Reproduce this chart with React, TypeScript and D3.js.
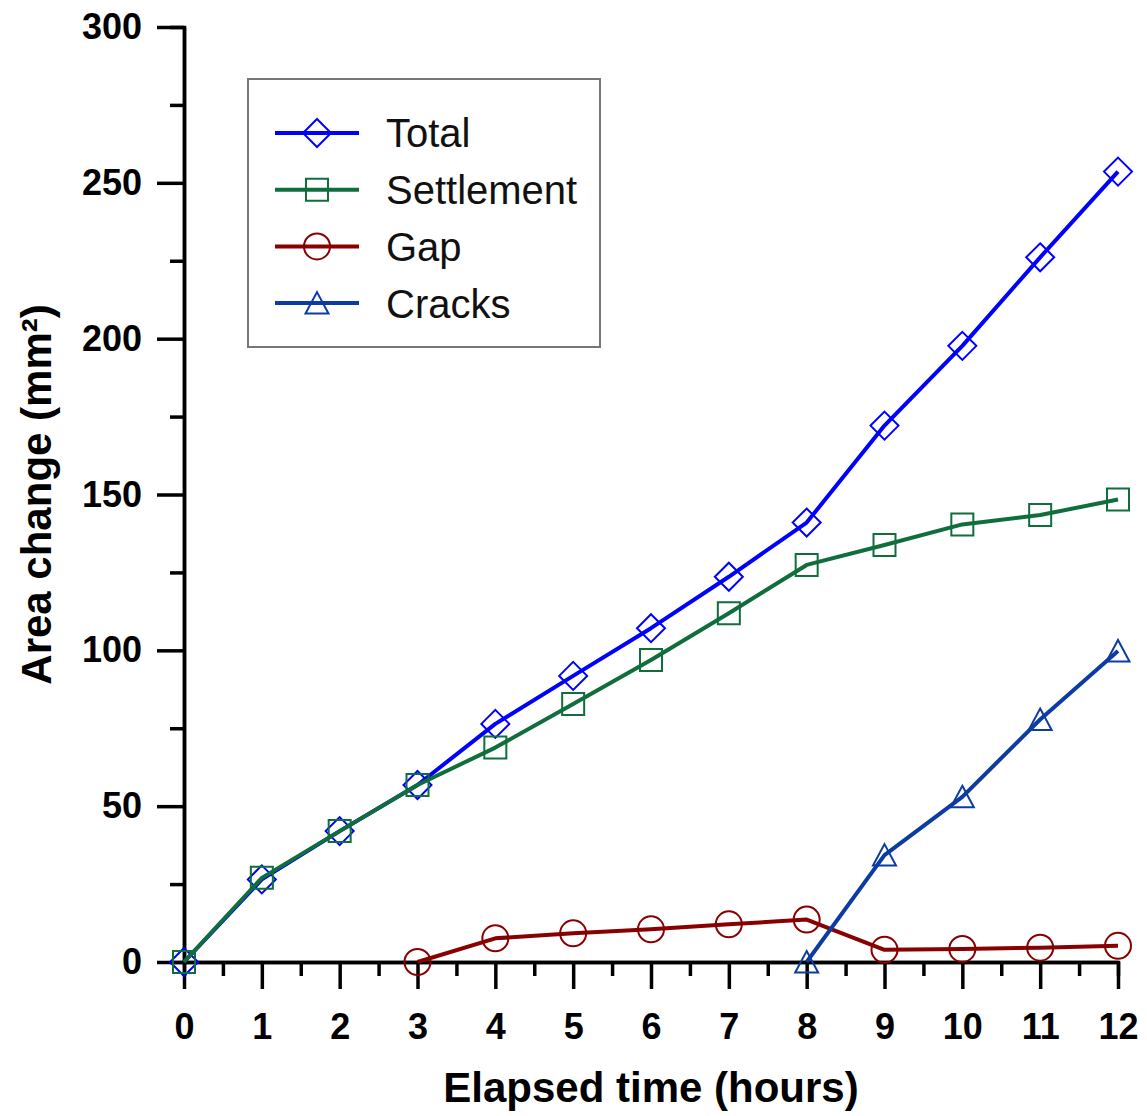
import { useEffect, useRef } from "react"
import * as d3 from "d3"

// hours on the x axis
const hours = [0, 1, 2, 3, 4, 5, 6, 7, 8, 9, 10, 11, 12]

// area change (mm²) per series, null where the series has no point
const total = [0, 26.5, 42, 56.8, 76.4, 91.8, 107.1, 123.6, 141, 172.1, 197.7, 226.1, 253.6]
const settlement = [0, 27, 42, 56.8, 68.8, 82.8, 96.9, 111.9, 127.4, 133.8, 140.4, 143.4, 148.4]
const gap = [null, null, null, 0, 7.6, 9.2, 10.5, 12.1, 13.6, 3.9, 4.2, 4.6, 5.2]
const cracks = [null, null, null, null, null, null, null, null, 0, 34.3, 53, 77.8, 99.8]

const seriesNames = ["Total", "Settlement", "Gap", "Cracks"]
const seriesColors = ["#0000ff", "#0f6e3c", "#880000", "#0c3ca2"]
const seriesMarkers = ["diamond", "square", "circle", "triangle"]

const xTicks = [0, 1, 2, 3, 4, 5, 6, 7, 8, 9, 10, 11, 12]
const xMinorTicks = [0.5, 1.5, 2.5, 3.5, 4.5, 5.5, 6.5, 7.5, 8.5, 9.5, 10.5, 11.5]
const yTicks = [0, 50, 100, 150, 200, 250, 300]
const yMinorTicks = [25, 75, 125, 175, 225, 275]

const FONT = "'Liberation Sans', Arial, sans-serif"

function markerPath(kind: string): string {
  switch (kind) {
    case "diamond":
      return "M0,-14L14,0L0,14L-14,0Z"
    case "square":
      return "M-11,-11H11V11H-11Z"
    case "triangle":
      return "M0,-11L11.5,10.5L-11.5,10.5Z"
    default:
      return "M13,0A13,13 0 1,1 -13,0A13,13 0 1,1 13,0Z"
  }
}

export default function App() {
  const svgRef = useRef<SVGSVGElement>(null)

  useEffect(() => {
    if (!svgRef.current) return
    const svg = d3.select(svgRef.current)
    svg.selectAll("*").remove()

    const x = d3.scaleLinear().domain([0, 12]).range([184, 1118])
    const y = d3.scaleLinear().domain([0, 300]).range([962, 27])

    const styleAxis = (g: d3.Selection<SVGGElement, unknown, null, undefined>) => {
      g.select(".domain").attr("stroke", "#000").attr("stroke-width", 3.5)
      g.selectAll(".tick line").attr("stroke", "#000").attr("stroke-width", 3.5)
      g.selectAll(".tick text")
        .attr("fill", "#000")
        .style("font-family", FONT)
        .style("font-weight", "bold")
        .style("font-size", "36px")
    }

    // minor ticks
    svg.append("g")
      .attr("transform", `translate(0,${y(0)})`)
      .call(d3.axisBottom(x).tickValues(xMinorTicks).tickSize(14).tickFormat(() => ""))
      .call(styleAxis)
    svg.append("g")
      .attr("transform", `translate(${x(0)},0)`)
      .call(d3.axisLeft(y).tickValues(yMinorTicks).tickSize(14).tickFormat(() => ""))
      .call(styleAxis)

    // major ticks
    svg.append("g")
      .attr("transform", `translate(0,${y(0)})`)
      .call(d3.axisBottom(x).tickValues(xTicks).tickSize(27).tickSizeOuter(0).tickPadding(24).tickFormat(d3.format("d")))
      .call(styleAxis)
    svg.append("g")
      .attr("transform", `translate(${x(0)},0)`)
      .call(d3.axisLeft(y).tickValues(yTicks).tickSize(27).tickSizeOuter(0).tickPadding(15).tickFormat(d3.format("d")))
      .call(styleAxis)

    // axis titles
    svg.append("text")
      .attr("x", (x(0) + x(12)) / 2)
      .attr("y", 1102)
      .attr("text-anchor", "middle")
      .style("font-family", FONT)
      .style("font-weight", "bold")
      .style("font-size", "42px")
      .text("Elapsed time (hours)")

    svg.append("text")
      .attr("transform", `translate(51,${(y(0) + y(300)) / 2}) rotate(-90)`)
      .attr("text-anchor", "middle")
      .style("font-family", FONT)
      .style("font-weight", "bold")
      .style("font-size", "42px")
      .text("Area change (mm²)")

    // series
    const allSeries = [total, settlement, gap, cracks]
    allSeries.forEach((values, i) => {
      const pts = hours
        .map((h, j) => ({ h, v: values[j] }))
        .filter(d => d.v !== null) as { h: number; v: number }[]
      const line = d3.line<{ h: number; v: number }>()
        .x(d => x(d.h))
        .y(d => y(d.v))
      svg.append("path")
        .datum(pts)
        .attr("fill", "none")
        .attr("stroke", seriesColors[i])
        .attr("stroke-width", 4)
        .attr("stroke-linejoin", "round")
        .attr("d", line)
      svg.append("g")
        .selectAll("path")
        .data(pts)
        .enter()
        .append("path")
        .attr("transform", d => `translate(${x(d.h)},${y(d.v)})`)
        .attr("d", markerPath(seriesMarkers[i]))
        .attr("fill", "none")
        .attr("stroke", seriesColors[i])
        .attr("stroke-width", 2)
    })

    // legend
    const legend = svg.append("g")
    legend.append("rect")
      .attr("x", 248)
      .attr("y", 79)
      .attr("width", 352)
      .attr("height", 268)
      .attr("fill", "#fff")
      .attr("stroke", "#777")
      .attr("stroke-width", 2)
    seriesNames.forEach((name, i) => {
      const ly = 133 + i * 56.7
      legend.append("line")
        .attr("x1", 275)
        .attr("x2", 359)
        .attr("y1", ly)
        .attr("y2", ly)
        .attr("stroke", seriesColors[i])
        .attr("stroke-width", 4)
      legend.append("path")
        .attr("transform", `translate(317,${ly})`)
        .attr("d", markerPath(seriesMarkers[i]))
        .attr("fill", "none")
        .attr("stroke", seriesColors[i])
        .attr("stroke-width", 2)
      legend.append("text")
        .attr("x", 386)
        .attr("y", ly)
        .attr("dy", "0.36em")
        .style("font-family", FONT)
        .style("font-size", "40px")
        .attr("fill", "#111")
        .text(name)
    })
  }, [])

  return (
    <svg
      ref={svgRef}
      width={1147}
      height={1116}
      style={{ position: "absolute", left: 0, top: 0, background: "#fff" }}
    />
  )
}
